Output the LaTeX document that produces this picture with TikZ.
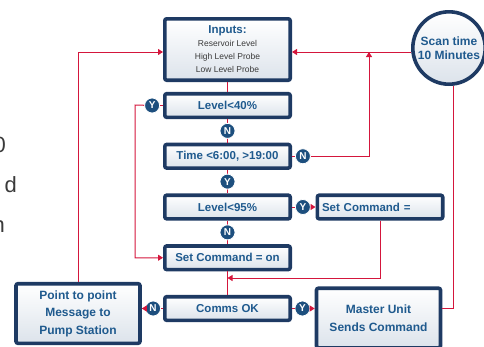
\documentclass[tikz,border=0pt]{standalone}
\usepackage{fontspec}
\setmainfont{Liberation Sans}
\usetikzlibrary{positioning, arrows.meta}

\definecolor{boxline}{HTML}{1E3A63}
\definecolor{boxtext}{HTML}{1F5A8E}
\definecolor{boxshade}{HTML}{DCE3EB}
\definecolor{probetext}{HTML}{3A3A3A}
\definecolor{flowred}{HTML}{D4163C}
\definecolor{badge}{HTML}{1D4F7E}

\newcommand{\probe}[1]{{\fontsize{8.5}{13}\selectfont\mdseries\color{probetext}#1}}

\tikzstyle{stepbox} = [rectangle, rounded corners=2pt, line width=3.6pt, draw=boxline, top color=white, bottom color=boxshade, text=boxtext, font=\fontsize{11.5}{13}\selectfont\bfseries, minimum width=125.4pt, minimum height=23.6pt, align=center, inner sep=2pt]
\tikzstyle{bigbox} = [stepbox, font=\fontsize{12}{17.5}\selectfont\bfseries, minimum width=124pt, minimum height=59.6pt]
\tikzstyle{timer} = [circle, line width=3.6pt, draw=boxline, top color=white, bottom color=boxshade, text=boxtext, font=\fontsize{12}{14}\selectfont\bfseries, minimum size=72.4pt, align=center, inner sep=0pt]
\tikzstyle{yn} = [circle, fill=badge, draw=white, line width=0.8pt, text=white, font=\fontsize{10}{10}\selectfont\bfseries, inner sep=0pt, minimum size=15pt]
\tikzstyle{fragment} = [text=probetext, font=\fontsize{22}{22}\selectfont, inner sep=0pt, anchor=base east]
\tikzstyle{line} = [flowred, line width=1pt]
\tikzstyle{arrow} = [line, -{Triangle[length=5pt,width=6pt]}]

\begin{document}
\begin{tikzpicture}[x=1pt, y=1pt, node distance=50.75pt]
\useasboundingbox (0,0) rectangle (484,-346);

% Text running off the left edge
\node (frag0) [fragment] at (6,-152) {0};
\node (frag1) [fragment] at (17,-192) {d};
\node (frag2) [fragment] at (5,-232) {n};

% Main column
\node (inputs) [stepbox, minimum height=61.4pt] at (227.5,-49.5) {Inputs:\\\probe{Reservoir Level}\\\probe{High Level Probe}\\\probe{Low Level Probe}};
\node (lvl40) [stepbox, below of=inputs, node distance=56pt] {Level<40\%};
\node (time) [stepbox, below of=lvl40] {Time <6:00, >19:00};
\node (lvl95) [stepbox, below of=time] {Level<95\%};
\node (seton) [stepbox, below of=lvl95] {Set Command = on};
\node (comms) [stepbox, below of=seton] {Comms OK};

% Side boxes
\node (scan) [timer] at (449,-48) {Scan time\\10 Minutes};
\node (setcmd) [stepbox, right of=lvl95, node distance=152.5pt, align=left, text width=116pt] {Set Command =};
\node (master) [bigbox] at (378.5,-318) {Master Unit\\Sends Command};
\node (p2p) [bigbox] at (78,-313.5) {Point to point\\Message to\\Pump Station};

% Yes / No badges beside the boxes
\node (y1) [yn, left=3pt of lvl40] {Y};
\node (n2) [yn, right=3pt of time] {N};
\node (y3) [yn, right=3pt of lvl95] {Y};
\node (n4) [yn, left=2pt of comms] {N};
\node (y4) [yn, right=2.5pt of comms] {Y};

% Corner points
\coordinate (loopleft) at (135,-105);
\coordinate (scanjoin) at (369,-52);
\coordinate (merge) at (227.5,-278);

% Connectors down the column
\draw [line] (inputs) -- (lvl40);
\draw [line] (lvl40) -- node[yn] (n1) {N} (time);
\draw [line] (time) -- node[yn] (y2) {Y} (lvl95);
\draw [line] (lvl95) -- node[yn] (n3) {N} (seton);
\draw [line] (seton) -- (comms);

% Branches
\draw [line] (lvl40) -- (y1);
\draw [arrow] (y1) -- (loopleft) |- (seton);
\draw [line] (time) -- (n2);
\draw [arrow] (n2) -| (scanjoin);
\draw [arrow] (scan.west |- scanjoin) -- (inputs.east |- scanjoin);
\draw [line] (lvl95) -- (y3);
\draw [arrow] (y3) -- (setcmd);
\draw [arrow] (setcmd.south) |- (merge);
\draw [line] (comms) -- (n4);
\draw [arrow] (n4) -- (p2p.east |- n4);
\draw [line] (comms) -- (y4);
\draw [arrow] (y4) -- (master.west |- y4);
\draw [line] ([xshift=4pt]scan.south) |- (master.east |- comms);
\draw [arrow] (p2p) |- (inputs.west |- scanjoin);

\end{tikzpicture}
\end{document}
